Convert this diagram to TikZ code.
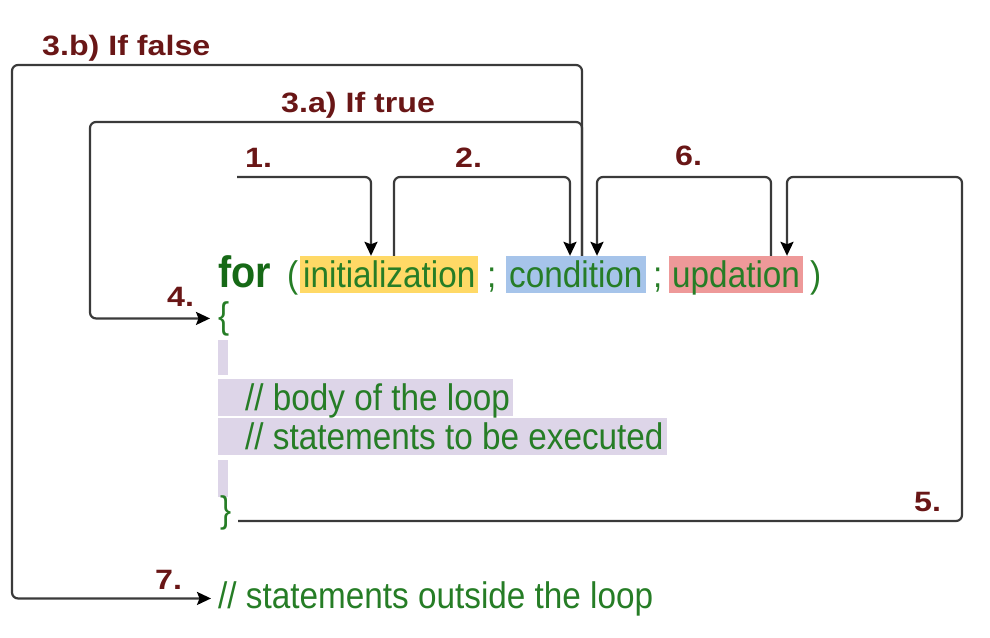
\documentclass[tikz,border=0pt]{standalone}
\usepackage{fontspec}
\setmainfont{Liberation Sans}
\newfontfamily\codefont[FakeStretch=0.9]{Liberation Sans}
\newfontfamily\labfont[FakeStretch=1.15]{Liberation Sans}
\usetikzlibrary{arrows.meta}
\definecolor{codegreen}{RGB}{38,125,38}
\definecolor{forgreen}{RGB}{22,105,22}
\definecolor{labred}{RGB}{105,22,22}
\definecolor{linegray}{RGB}{58,58,58}
\definecolor{inityellow}{RGB}{255,217,102}
\definecolor{condblue}{RGB}{166,196,234}
\definecolor{updred}{RGB}{238,153,153}
\definecolor{lavender}{RGB}{221,213,232}

\begin{document}
\begin{tikzpicture}[x=1pt,y=-1pt,
  code/.style={font=\codefont\fontsize{37}{37}\selectfont,text=codegreen,inner sep=0pt,anchor=base west},
  hl/.style={code,inner xsep=3pt,inner ysep=0pt,text height=31pt,text depth=6pt},
  lab/.style={font=\labfont\bfseries\fontsize{28}{28}\selectfont,text=labred,inner sep=0pt,anchor=base west},
  bar/.style={fill=lavender,inner sep=0pt,minimum width=10pt,anchor=north west},
  flow/.style={draw=linegray,line width=2.2pt,rounded corners=6pt},
  arr/.style={flow,-{Stealth[length=14pt,width=13pt,inset=2.5pt,color=black]}}]
  \useasboundingbox (0,0) rectangle (990,637);
  \node[code,font=\codefont\bfseries\fontsize{44}{44}\selectfont,text=forgreen] (for) at (218,287) {for};
  \node[code] (lp) at (287,287) {(};
  \node[hl,fill=inityellow] (init) at (300,287) {initialization};
  \node[code] (semi1) at (487,287) {;};
  \node[hl,fill=condblue] (cond) at (506,287) {condition};
  \node[code] (semi2) at (653,287) {;};
  \node[hl,fill=updred] (upd) at (669,287) {updation};
  \node[code] (rp) at (810,287) {)};
  \node[code] (ob) at (218,328) {\{};
  \foreach \n/\y/\h in {1/340/35,2/460/37}
    \node[bar,minimum height=\h pt] (bar\n) at (218,\y) {};
  \node[hl,fill=lavender] (body1) at (218,410) {\hspace*{24pt}// body of the loop};
  \node[hl,fill=lavender] (body2) at (218,449) {\hspace*{24pt}// statements to be executed};
  \node[code] (cb) at (220,522) {\}};
  \node[code] (out) at (218,608) {// statements outside the loop};
  \foreach \t/\x/\y/\n in {3.b) If false/42/55/3b,3.a) If true/281/112/3a,1./245/167/1,2./455/167/2,6./675/165/6,4./167/306/4,5./914/511/5,7./155/589/7}
    \node[lab] (l\n) at (\x,\y) {\t};
  \coordinate (start) at (237,177);
  \coordinate (d1) at ([xshift=71pt]init.north west);
  \coordinate (u2) at ([xshift=94pt]init.north west);
  \coordinate (d2) at ([xshift=64pt]cond.north west);
  \coordinate (u3) at ([xshift=76pt]cond.north west);
  \coordinate (d6) at ([xshift=91pt]cond.north west);
  \coordinate (u6) at ([xshift=102pt]upd.north west);
  \coordinate (d5) at ([xshift=118pt]upd.north west);
  \coordinate (f3) at (12,65);
  \coordinate (t3) at (90,122);
  \coordinate (c5) at (238,521);
  \coordinate (r5) at (962,521);
  \draw[arr] (start) -| (d1);
  \draw[arr] (u2) |- (start -| d2) -- (d2);
  \draw[arr] (u6) |- (start -| d6) -- (d6);
  \draw[arr] (c5) -- (r5) |- (start -| d5) -- (d5);
  \draw[arr,shorten >=7pt] (u3) |- (f3) |- (out.west);
  \draw[arr,shorten >=8pt] (u3) -- (u3 |- t3) -- (t3) |- (ob.west);
\end{tikzpicture}
\end{document}
